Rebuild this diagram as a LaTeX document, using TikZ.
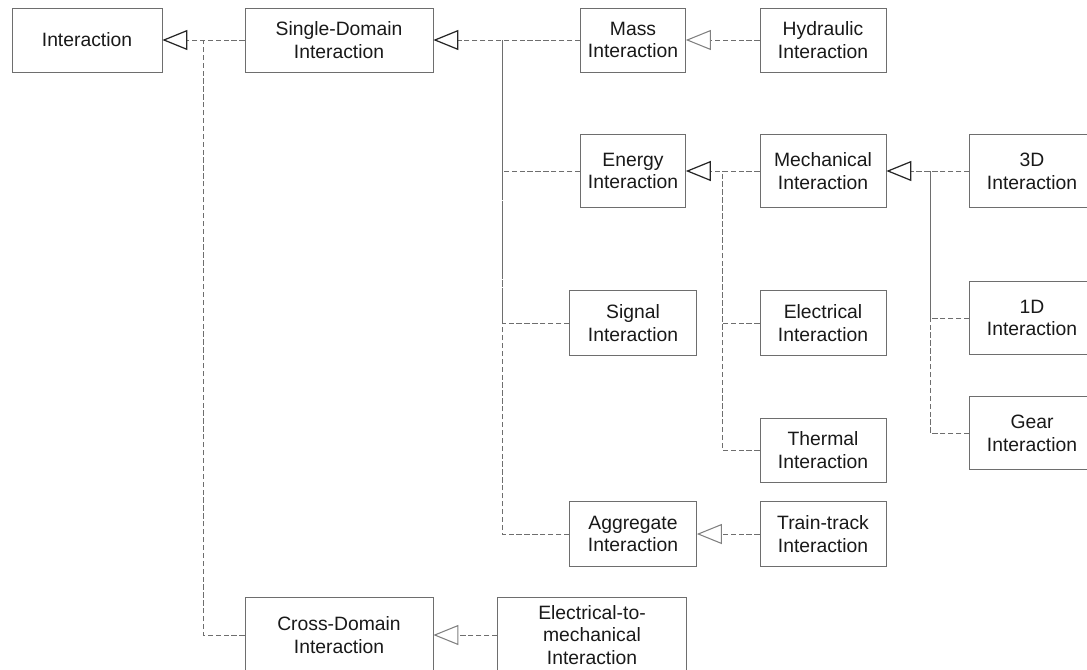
\documentclass[tikz,border=0pt]{standalone}
\usepackage{fontspec}
\setmainfont{Liberation Sans}
\usepackage{tikz}
\usetikzlibrary{arrows.meta}
\definecolor{umlgray}{RGB}{110,110,110}

\begin{document}
\begin{tikzpicture}[x=0.02cm,y=-0.02cm,
  cbox/.style={draw=umlgray,fill=white,align=center,inner sep=0pt,
               font=\fontsize{11}{13}\selectfont,text=black!90},
  lnk/.style={draw=umlgray,dash pattern=on 3pt off 1.5pt},
  gen/.style={lnk,-{Triangle[open,length=0.5cm,width=0.4cm,line width=0.7pt,color=black!85]}},
  genlight/.style={lnk,-{Triangle[open,length=0.5cm,width=0.4cm,line width=0.6pt,color=black!50]}}
]
\clip (0,0) rectangle (1087,669);
\node[cbox,minimum width=3cm,minimum height=1.28cm] (intr) at (87,40) {Interaction};
\node[cbox,minimum width=3.76cm,minimum height=1.28cm] (single) at (339,40) {Single-Domain\\Interaction};
\node[cbox,minimum width=2.1cm,minimum height=1.28cm] (mass) at (633,40) {Mass\\Interaction};
\node[cbox,minimum width=2.52cm,minimum height=1.28cm] (hydr) at (823,40) {Hydraulic\\Interaction};
\node[cbox,minimum width=2.1cm,minimum height=1.46cm] (energy) at (633,171) {Energy\\Interaction};
\node[cbox,minimum width=2.52cm,minimum height=1.46cm] (mech) at (823,171) {Mechanical\\Interaction};
\node[cbox,minimum width=2.5cm,minimum height=1.46cm] (threeD) at (1032,171) {3D\\Interaction};
\node[cbox,minimum width=2.54cm,minimum height=1.3cm] (signal) at (633,323) {Signal\\Interaction};
\node[cbox,minimum width=2.52cm,minimum height=1.3cm] (elec) at (823,323) {Electrical\\Interaction};
\node[cbox,minimum width=2.5cm,minimum height=1.46cm] (oneD) at (1032,318) {1D\\Interaction};
\node[cbox,minimum width=2.52cm,minimum height=1.28cm] (therm) at (823,450) {Thermal\\Interaction};
\node[cbox,minimum width=2.5cm,minimum height=1.46cm] (gear) at (1032,433) {Gear\\Interaction};
\node[cbox,minimum width=2.54cm,minimum height=1.3cm] (aggr) at (633,534) {Aggregate\\Interaction};
\node[cbox,minimum width=2.52cm,minimum height=1.3cm] (train) at (823,534) {Train-track\\Interaction};
\node[cbox,minimum width=3.76cm,minimum height=1.52cm] (cross) at (339,635) {Cross-Domain\\Interaction};
\node[cbox,minimum width=3.78cm,minimum height=1.52cm] (e2m) at (592,635) {Electrical-to-\\mechanical\\Interaction};
% junctions of the shared arrows
\coordinate (jintr) at (203,40);
\coordinate (jsingle) at (502,40);
\coordinate (jenergy) at (722,171);
\coordinate (jmech) at (930,171);
\draw[gen] (single.west) -- (intr.east);
\draw[lnk] (cross.west) -| (jintr);
\draw[gen] (mass.west) -- (single.east);
\draw[lnk] (energy.west) -| (jsingle);
\draw[lnk] (signal.west) -| (jsingle);
\draw[lnk] (aggr.west) -| (jsingle);
\draw[genlight] (hydr.west) -- (mass.east);
\draw[gen] (mech.west) -- (energy.east);
\draw[lnk] (elec.west) -| (jenergy);
\draw[lnk] (therm.west) -| (jenergy);
\draw[gen] (threeD.west) -- (mech.east);
\draw[lnk] (oneD.west) -| (jmech);
\draw[lnk] (gear.west) -| (jmech);
\draw[genlight] (train.west) -- (aggr.east);
\draw[genlight] (e2m.west) -- (cross.east);
\end{tikzpicture}
\end{document}
